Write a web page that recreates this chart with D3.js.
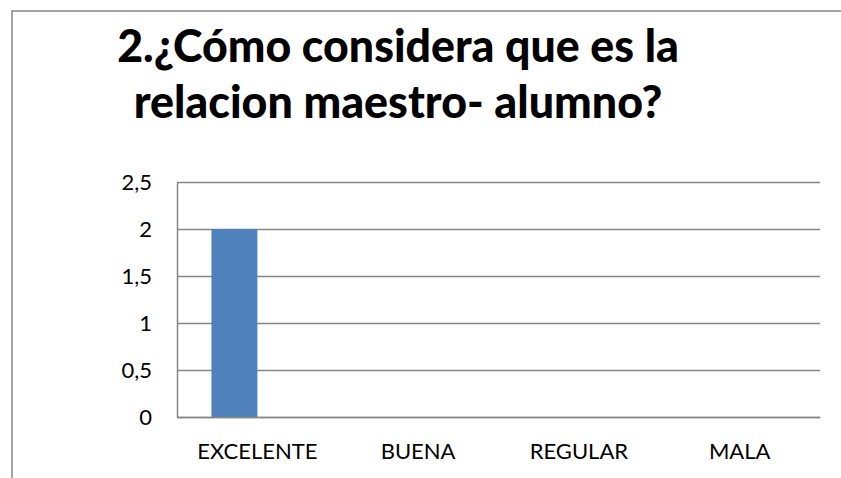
<!DOCTYPE html>
<html>
<head>
<meta charset="utf-8">
<script src="https://cdn.jsdelivr.net/npm/d3@7"></script>
<style>
  html, body { margin: 0; padding: 0; background: #fff; }
  svg { display: block; }
</style>
</head>
<body>
<div id="chart"></div>
<script>
const categories = ['EXCELENTE', 'BUENA', 'REGULAR', 'MALA'];
const seriesNames = ['Serie 1', 'Serie 2'];
const series1 = [2, 0, 0, 0];
const series2 = [0, 0, 0, 0];
const yTicks = [0, 0.5, 1, 1.5, 2, 2.5];
const titleLines = ['2.¿Cómo considera que es la', 'relacion maestro- alumno?'];

const width = 841;
const height = 478;
const plot = { left: 177, right: 820, top: 182, bottom: 417 };
const font = "Lato, 'Open Sans', sans-serif";

const svg = d3.select('#chart')
  .append('svg')
  .attr('width', width)
  .attr('height', height);

// chart frame (runs off the right and bottom edges)
svg.append('rect')
  .attr('x', 12)
  .attr('y', 11)
  .attr('width', width + 20)
  .attr('height', height + 20)
  .attr('fill', '#fff')
  .attr('stroke', '#868686')
  .attr('stroke-width', 1.5);

// Title
const title = svg.append('g');
const titleWidths = [562, 529];
titleLines.forEach((line, i) => {
  const t = title.append('text')
    .attr('x', 398)
    .attr('y', 62 + i * 56)
    .attr('text-anchor', 'middle')
    .attr('font-family', font)
    .attr('font-weight', 900)
    .attr('font-size', 44)
    .attr('fill', '#000')
    .text(line);
  const w = t.node().getComputedTextLength();
  if (w > 0) t.attr('font-size', 44 * titleWidths[i] / w);
});

const x = d3.scaleBand()
  .domain(categories)
  .range([plot.left, plot.right]);

// two bars per group, gap width 150%
const barW = x.bandwidth() / (seriesNames.length + 1.5);
const xSub = d3.scaleBand()
  .domain(seriesNames)
  .range([x.bandwidth() / 2 - barW, x.bandwidth() / 2 + barW]);

const y = d3.scaleLinear()
  .domain([0, 2.5])
  .range([plot.bottom, plot.top]);

// Gridlines
svg.append('g')
  .attr('transform', `translate(${plot.left},0)`)
  .call(d3.axisLeft(y).tickValues(yTicks).tickSize(-(plot.right - plot.left)).tickFormat(''))
  .call((g) => g.select('.domain').remove())
  .call((g) => g.selectAll('line').attr('stroke', '#868686').attr('stroke-width', 1.5));

// Bars
const rows = categories.map((c, i) => ({ cat: c, values: [series1[i], series2[i]] }));
svg.append('g')
  .selectAll('g')
  .data(rows)
  .join('g')
  .attr('transform', (d) => `translate(${x(d.cat)},0)`)
  .selectAll('rect')
  .data((d) => d.values.map((v, j) => ({ key: seriesNames[j], value: v })))
  .join('rect')
  .attr('x', (d) => xSub(d.key))
  .attr('width', xSub.bandwidth())
  .attr('y', (d) => y(d.value))
  .attr('height', (d) => y(0) - y(d.value))
  .attr('fill', (d, j) => (j === 0 ? '#4F81BD' : '#C0504D'));

// Y axis
svg.append('g')
  .attr('transform', `translate(${plot.left},0)`)
  .call(d3.axisLeft(y).tickValues(yTicks).tickSize(0).tickPadding(25)
    .tickFormat((d) => String(d).replace('.', ',')))
  .call((g) => g.select('.domain').attr('stroke', '#868686').attr('stroke-width', 1.5))
  .call((g) => g.selectAll('text')
    .attr('font-family', font)
    .attr('font-size', 22)
    .attr('fill', '#000'));

// X axis
svg.append('g')
  .attr('transform', `translate(0,${plot.bottom})`)
  .call(d3.axisBottom(x).tickSize(0).tickPadding(26))
  .call((g) => g.select('.domain').attr('stroke', '#868686').attr('stroke-width', 1.5))
  .call((g) => g.selectAll('text')
    .attr('font-family', font)
    .attr('font-size', 22)
    .attr('fill', '#000'));
</script>
</body>
</html>
